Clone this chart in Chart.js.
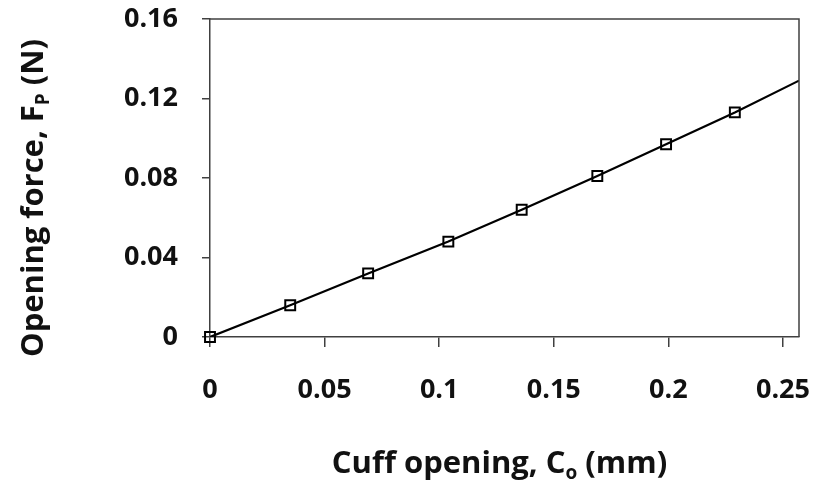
<!DOCTYPE html>
<html>
<head>
<meta charset="utf-8">
<script src="https://cdn.jsdelivr.net/npm/chart.js@4.4.1/dist/chart.umd.min.js"></script>
<style>
  html, body { margin: 0; padding: 0; background: #fff; }
  #wrap { width: 813px; height: 501px; }
</style>
</head>
<body>
<div id="wrap"><canvas id="myChart" width="813" height="501"></canvas></div>
<script>
// measured points
const cuffOpening = [0, 0.035, 0.069, 0.104, 0.136, 0.169, 0.199, 0.229];
const openingForce = [0, 0.016, 0.032, 0.048, 0.064, 0.081, 0.097, 0.113];
// line runs through the points and on to the right edge
const lineX = [0, 0.035, 0.069, 0.104, 0.136, 0.169, 0.199, 0.229, 0.257];
const lineY = [0, 0.016, 0.032, 0.048, 0.064, 0.081, 0.097, 0.113, 0.129];

const xTicks = [0, 0.05, 0.1, 0.15, 0.2, 0.25];
const yTicks = [0, 0.04, 0.08, 0.12, 0.16];

// title pieces: text, subscript, text
const xTitle = ['Cuff opening, C', 'o', ' (mm)'];
const yTitle = ['Opening force, F', 'P', ' (N)'];

const axisColor = '#404040';
const fontFam = '"Open Sans", sans-serif';

function drawTitle(ctx, parts, size) {
    ctx.font = 'bold ' + size + 'px ' + fontFam;
    const w0 = ctx.measureText(parts[0]).width;
    const w2 = ctx.measureText(parts[2]).width;
    ctx.font = 'bold ' + Math.round(size * 0.62) + 'px ' + fontFam;
    const w1 = ctx.measureText(parts[1]).width;
    let x = -(w0 + w1 + w2) / 2;
    ctx.textBaseline = 'middle';
    ctx.textAlign = 'left';
    ctx.font = 'bold ' + size + 'px ' + fontFam;
    ctx.fillText(parts[0], x, 0);
    x += w0;
    ctx.font = 'bold ' + Math.round(size * 0.62) + 'px ' + fontFam;
    ctx.fillText(parts[1], x, size * 0.3);
    x += w1;
    ctx.font = 'bold ' + size + 'px ' + fontFam;
    ctx.fillText(parts[2], x, 0);
}

const framePlugin = {
    id: 'frame',
    afterDraw(chart) {
        const ctx = chart.ctx;
        const a = chart.chartArea;
        ctx.save();
        ctx.strokeStyle = axisColor;
        ctx.lineWidth = 1.5;
        ctx.beginPath();
        ctx.moveTo(a.left, a.top);
        ctx.lineTo(a.right, a.top);
        ctx.lineTo(a.right, a.bottom);
        ctx.stroke();
        ctx.fillStyle = '#111';
        ctx.save();
        ctx.translate((a.left + a.right) / 2 - 5, 464);
        drawTitle(ctx, xTitle, 31);
        ctx.restore();
        ctx.save();
        ctx.translate(34, 198);
        ctx.rotate(-Math.PI / 2);
        drawTitle(ctx, yTitle, 31);
        ctx.restore();
        ctx.restore();
    }
};

const tickFmt = v => String(+Number(v).toFixed(2));

// keep label overflow from pushing the plot area in
const noOverflow = s => { s.paddingTop = 0; s.paddingRight = 0; s.paddingLeft = 0; s.paddingBottom = 0; };

const config = {
    type: 'scatter',
    data: {
        datasets: [{
            type: 'line',
            data: lineX.map((x, i) => ({ x: x, y: lineY[i] })),
            borderColor: '#000',
            borderWidth: 2.2,
            pointRadius: 0,
            showLine: true,
            fill: false,
            tension: 0,
            order: 2
        }, {
            data: cuffOpening.map((x, i) => ({ x: x, y: openingForce[i] })),
            pointStyle: 'rect',
            pointRadius: 7,
            pointBorderWidth: 2,
            pointBorderColor: '#000',
            pointBackgroundColor: 'rgba(255,255,255,0)',
            showLine: false,
            clip: false,
            order: 1
        }]
    },
    options: {
        responsive: false,
        animation: false,
        devicePixelRatio: 1,
        layout: { padding: { top: 19, right: 14, left: 0, bottom: 0 } },
        plugins: { legend: { display: false }, tooltip: { enabled: false } },
        scales: {
            x: {
                type: 'linear',
                min: 0,
                max: 0.257,
                afterBuildTicks: s => { s.ticks = xTicks.map(v => ({ value: v })); },
                afterFit: s => { s.height = 164; noOverflow(s); },
                border: { color: axisColor, width: 1.5 },
                grid: { drawOnChartArea: false, drawTicks: true, tickLength: 10, color: axisColor, lineWidth: 1.5 },
                ticks: {
                    callback: tickFmt,
                    color: '#111',
                    padding: 27,
                    maxRotation: 0,
                    font: { family: fontFam, size: 27, weight: 'bold' }
                }
            },
            y: {
                min: 0,
                max: 0.16,
                afterBuildTicks: s => { s.ticks = yTicks.map(v => ({ value: v })); },
                afterFit: s => { s.width = 210; noOverflow(s); },
                border: { color: axisColor, width: 1.5 },
                grid: { drawOnChartArea: false, drawTicks: true, tickLength: 8, color: axisColor, lineWidth: 1.5 },
                ticks: {
                    callback: tickFmt,
                    color: '#111',
                    padding: 24,
                    font: { family: fontFam, size: 27, weight: 'bold' }
                }
            }
        }
    },
    plugins: [framePlugin]
};

const myChart = new Chart(document.getElementById('myChart'), config);
</script>
</body>
</html>
